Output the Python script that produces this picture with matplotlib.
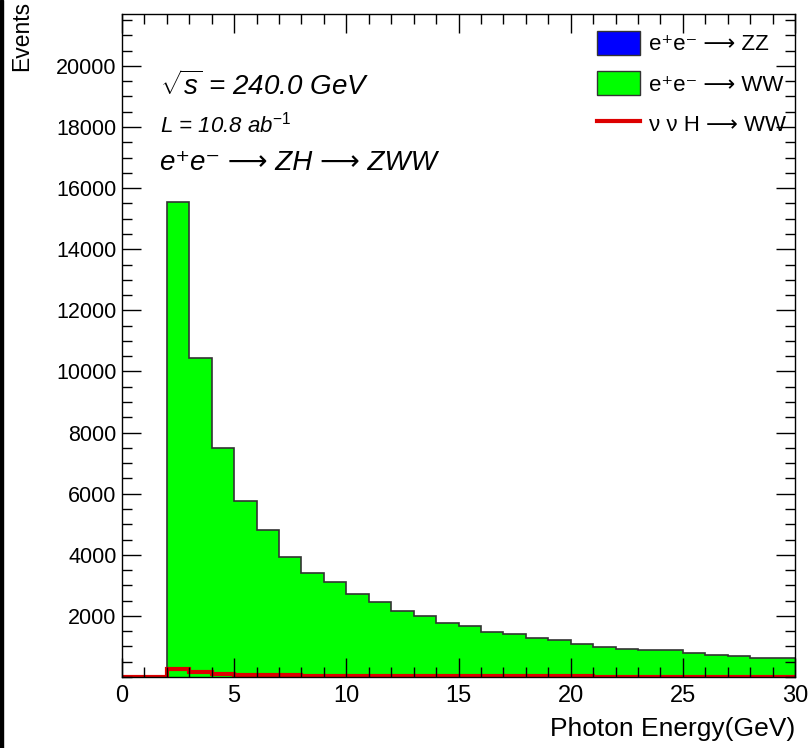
import numpy as np
import matplotlib
matplotlib.use("Agg")
import matplotlib.pyplot as plt
from matplotlib.patches import Patch, Rectangle
from matplotlib.lines import Line2D

plt.rcParams['font.family'] = ['Liberation Sans', 'DejaVu Sans']
plt.rcParams['mathtext.fontset'] = 'custom'
plt.rcParams['mathtext.rm'] = 'Liberation Sans'
plt.rcParams['mathtext.it'] = 'Liberation Sans:italic'

# binning: 1 GeV bins from 0 to 30
edges = np.arange(0, 31, 1)

# e+e- -> ZZ (not visible in the stack)
zz = [0] * 30
# e+e- -> WW
ww = [0, 0, 15550, 10440, 7500, 5760, 4810, 3930, 3400, 3110,
      2730, 2445, 2160, 1985, 1780, 1670, 1485, 1420, 1280, 1210,
      1065, 992, 922, 880, 870, 776, 730, 697, 632, 630]
# nu nu H -> WW
hww = [0, 0, 260, 155, 100, 70, 60, 50, 45, 40,
       40, 35, 35, 30, 30, 25, 25, 20, 20, 20,
       20, 15, 15, 15, 15, 15, 10, 10, 10, 10]

labels = ['e⁺e⁻ ⟶ ZZ', 'e⁺e⁻ ⟶ WW', 'ν ν H ⟶ WW']

fig = plt.figure(figsize=(8.09, 7.48), dpi=100)
ax = fig.add_axes([0.1508, 0.0949, 0.8319, 0.8864])

zz = np.array(zz, dtype=float)
ww_top = zz + np.array(ww, dtype=float)

# stacked histograms
ax.stairs(zz, edges, fill=True, color='#0000ff')
ax.stairs(ww_top, edges, baseline=zz, fill=True, color='#00ff00')
ax.stairs(ww_top, edges, baseline=None, color='#333333', lw=1.2)
ax.stairs(hww, edges, baseline=None, color='#dd0000', lw=3)

ax.set_xlim(0, 30)
ax.set_ylim(0, 21700)
ax.set_xticks(np.arange(0, 31, 5))
ax.set_xticks(np.arange(0, 31, 1), minor=True)
ax.set_yticks(np.arange(2000, 20001, 2000))
ax.set_yticks(np.arange(0, 21701, 500), minor=True)
ax.tick_params(which='both', direction='in', top=True, right=True, width=1)
ax.tick_params(which='major', length=14)
ax.tick_params(which='minor', length=7)
ax.tick_params(axis='x', labelsize=17, pad=6)
ax.tick_params(axis='y', labelsize=15.5, pad=4)
for s in ax.spines.values():
    s.set_linewidth(1)

ax.set_xlabel('Photon Energy(GeV)', fontsize=19, loc='right', labelpad=7)
fig.text(22 / 809, 1 - 1 / 748, 'Events', fontsize=16.5, rotation=90,
         ha='center', va='top')

fig.text(0.198, 1 - 95 / 748, r'$\sqrt{s}$ = 240.0 GeV', fontsize=20,
         style='italic', va='baseline')
fig.text(0.198, 1 - 132 / 748, 'L = 10.8 ab$^{-1}$', fontsize=16,
         style='italic', va='baseline')
fig.text(0.198, 1 - 170 / 748, 'e⁺e⁻ ⟶ ZH ⟶ ZWW',
         fontsize=20, style='italic', va='baseline')

handles = [Patch(facecolor='#0000ff', edgecolor='#333333'),
           Patch(facecolor='#00ff00', edgecolor='#333333'),
           Line2D([], [], color='#dd0000', lw=3)]
fig.legend(handles, labels, loc='upper left',
           bbox_to_anchor=(597 / 809, 1 - 31 / 748),
           frameon=False, fontsize=16, handlelength=1.95, handleheight=1.25,
           handletextpad=0.4, labelspacing=0.73, borderpad=0, borderaxespad=0)

fig.patches.append(Rectangle((0, 0), 0.004, 1, transform=fig.transFigure,
                             color='black', zorder=-1))

fig.savefig('out.png', dpi=100)
